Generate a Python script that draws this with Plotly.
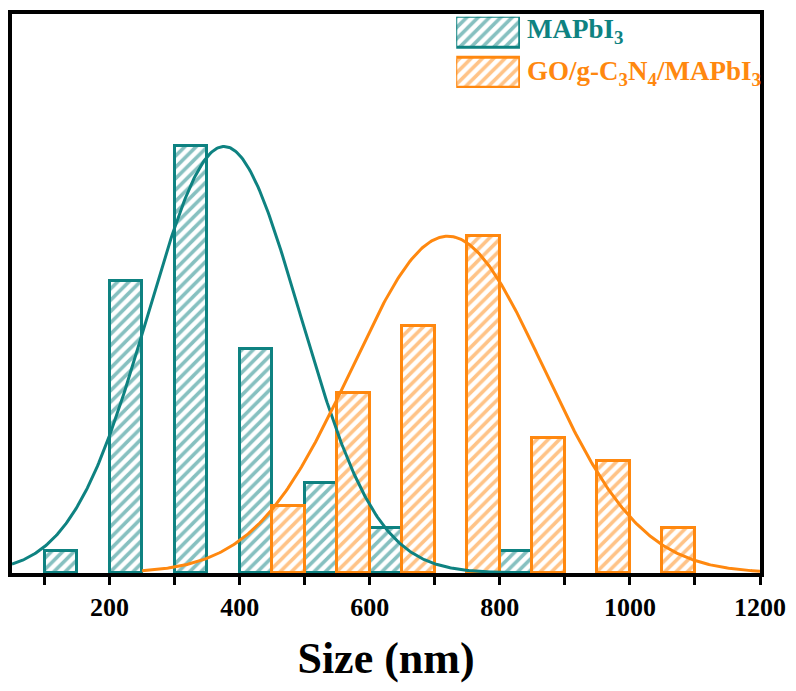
import numpy as np
import plotly.graph_objects as go

# ---- data ----
bin_width = 50
mapbi3_centers = [125, 225, 325, 425, 525, 625, 825]
mapbi3_counts = [1, 13, 19, 10, 4, 2, 1]
go_centers = [475, 575, 675, 775, 875, 975, 1075]
go_counts = [3, 8, 11, 15, 6, 5, 2]

# Gaussian fit parameters (amplitude, centre, sigma, x-span)
mapbi3_fit = dict(amp=19.0, mu=376, sigma=117, xmin=50, xmax=820)
go_fit = dict(amp=15.0, mu=720, sigma=148, xmin=250, xmax=1200)

labels = ["MAPbI<sub>3</sub>", "GO/g-C<sub>3</sub>N<sub>4</sub>/MAPbI<sub>3</sub>"]

TEAL = "#0E8281"
ORANGE = "#FF880F"
FONT = "Liberation Serif"


def gauss_curve(p):
    xs = np.linspace(p["xmin"], p["xmax"], 400)
    ys = p["amp"] * np.exp(-((xs - p["mu"]) ** 2) / (2 * p["sigma"] ** 2))
    return xs, ys


def bar_trace(x, y, color, width=bin_width, **kw):
    return go.Bar(
        x=x, y=y, width=width,
        marker=dict(
            color="white",
            line=dict(color=color, width=3),
            pattern=dict(shape="/", fgcolor=color, bgcolor="white",
                         size=8, solidity=0.45, fillmode="overlay"),
        ),
        showlegend=False, hoverinfo="skip", **kw)


fig = go.Figure()
fig.add_trace(bar_trace(mapbi3_centers, mapbi3_counts, TEAL))
fig.add_trace(bar_trace(go_centers, go_counts, ORANGE))

for p, c in [(mapbi3_fit, TEAL), (go_fit, ORANGE)]:
    xs, ys = gauss_curve(p)
    fig.add_trace(go.Scatter(x=xs, y=ys, mode="lines",
                             line=dict(color=c, width=3),
                             showlegend=False, hoverinfo="skip"))

# ---- legend swatches (hidden subplot) ----
fig.add_trace(bar_trace([0.5], [0.431], TEAL, width=1, base=[0.569],
                        xaxis="x2", yaxis="y2"))
fig.add_trace(bar_trace([0.5], [0.43], ORANGE, width=1, base=[0.0],
                        xaxis="x2", yaxis="y2"))

fig.add_annotation(xref="paper", yref="paper", x=0.6858, y=0.9698,
                   xanchor="left", yanchor="middle", showarrow=False,
                   text="<b>" + labels[0] + "</b>",
                   font=dict(family=FONT, size=27, color=TEAL))
fig.add_annotation(xref="paper", yref="paper", x=0.6858, y=0.895,
                   xanchor="left", yanchor="middle", showarrow=False,
                   text="<b>" + labels[1] + "</b>",
                   font=dict(family=FONT, size=27, color=ORANGE))

fig.update_layout(
    width=796, height=691,
    margin=dict(l=12, r=31, t=10, b=118),
    plot_bgcolor="white", paper_bgcolor="white",
    barmode="overlay",
    bargap=0,
    font=dict(family=FONT, color="black"),
    xaxis=dict(
        range=[50, 1200], tick0=0, dtick=200,
        showline=True, linecolor="black", linewidth=4, mirror=True,
        ticks="outside", ticklen=8, tickwidth=3, tickcolor="black",
        minor=dict(dtick=100, tick0=0, ticks="outside", ticklen=8,
                   tickwidth=3, tickcolor="black"),
        showgrid=False, zeroline=False,
        tickfont=dict(family=FONT, size=26, color="black", weight="bold"),
        title=dict(text="<b>Size (nm)</b>", standoff=22,
                   font=dict(family=FONT, size=44, color="black")),
    ),
    yaxis=dict(
        range=[0, 24.9],
        showline=True, linecolor="black", linewidth=4, mirror=True,
        showticklabels=False, ticks="", showgrid=False, zeroline=False,
    ),
    xaxis2=dict(domain=[0.5939, 0.6791], range=[0, 1], visible=False,
                anchor="y2"),
    yaxis2=dict(domain=[0.8675, 0.9953], range=[0, 1], visible=False,
                anchor="x2"),
)

fig.write_html("out.html")
